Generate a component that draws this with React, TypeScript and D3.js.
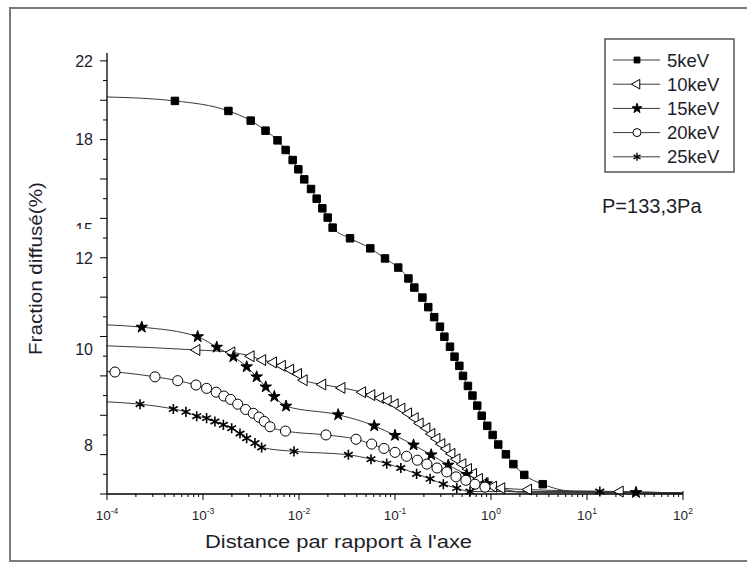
import React from "react";
import * as d3 from "d3";

// ---------- data ----------
const seriesNames = ["5keV", "10keV", "15keV", "20keV", "25keV"];

const keV5: [number, number][] = [
  [5.1e-4, 19.97], [1.84e-3, 19.46], [3.14e-3, 18.97], [4.48e-3, 18.46], [5.97e-3, 17.97],
  [7.26e-3, 17.48], [8.59e-3, 16.97], [9.84e-3, 16.5], [0.01135, 15.99], [0.01334, 15.5],
  [0.01528, 15.01], [0.0175, 14.52], [0.0199, 14.05], [0.0224, 13.54], [0.034, 13.0],
  [0.0553, 12.49], [0.0787, 11.99], [0.108, 11.79], [0.138, 11.55], [0.159, 11.35],
  [0.193, 11.13], [0.222, 10.92], [0.256, 10.7], [0.294, 10.49], [0.327, 10.27],
  [0.374, 10.05], [0.417, 9.84], [0.468, 9.65], [0.511, 9.44], [0.575, 9.23],
  [0.641, 9.03], [0.719, 8.82], [0.8, 8.61], [0.914, 8.4], [1.04, 8.21],
  [1.19, 8.01], [1.43, 7.81], [1.71, 7.61], [2.22, 7.39], [3.46, 7.2],
];

const keV10: [number, number][] = [
  [8.6e-4, 9.98], [1.99e-3, 9.93], [3.16e-3, 9.85], [4.17e-3, 9.77], [5.4e-3, 9.72],
  [6.68e-3, 9.65], [8.15e-3, 9.57], [9.84e-3, 9.48], [0.01127, 9.35], [0.0176, 9.26],
  [0.0279, 9.19], [0.0458, 9.1], [0.0571, 9.04], [0.0706, 8.98], [0.0846, 8.92],
  [0.1, 8.85], [0.1175, 8.76], [0.138, 8.66], [0.1616, 8.56], [0.182, 8.45],
  [0.214, 8.35], [0.241, 8.23], [0.272, 8.13], [0.306, 8.02], [0.346, 7.92],
  [0.39, 7.82], [0.44, 7.71], [0.507, 7.61], [0.58, 7.51], [0.655, 7.41],
  [0.755, 7.31], [0.865, 7.22], [1.06, 7.15], [1.29, 7.12], [2.45, 7.09], [22.1, 7.05],
];

const keV15: [number, number][] = [
  [2.3e-4, 10.48], [8.8e-4, 10.27], [1.39e-3, 10.04], [2.07e-3, 9.84], [2.85e-3, 9.63],
  [3.62e-3, 9.42], [4.5e-3, 9.21], [5.53e-3, 9.01], [7.33e-3, 8.81], [0.0256, 8.63],
  [0.0608, 8.4], [0.1, 8.2], [0.156, 8.0], [0.238, 7.8], [0.359, 7.59],
  [0.558, 7.4], [0.9, 7.21], [32.4, 7.03],
];

const keV20: [number, number][] = [
  [1.21e-4, 9.52], [3.16e-4, 9.42], [5.45e-4, 9.34], [8.45e-4, 9.25], [1.09e-3, 9.18],
  [1.37e-3, 9.1], [1.65e-3, 9.02], [1.94e-3, 8.95], [2.3e-3, 8.85], [2.78e-3, 8.74],
  [3.34e-3, 8.66], [3.83e-3, 8.58], [4.35e-3, 8.49], [4.99e-3, 8.38], [7.23e-3, 8.29],
  [0.0191, 8.21], [0.0393, 8.12], [0.0571, 8.02], [0.0767, 7.93], [0.1, 7.85],
  [0.132, 7.77], [0.171, 7.69], [0.215, 7.61], [0.274, 7.53], [0.346, 7.45],
  [0.432, 7.35], [0.547, 7.28], [0.681, 7.2], [0.865, 7.14],
];

const keV25: [number, number][] = [
  [2.21e-4, 8.85], [4.91e-4, 8.75], [6.65e-4, 8.69], [8.6e-4, 8.6], [1.09e-3, 8.56],
  [1.33e-3, 8.49], [1.63e-3, 8.42], [1.99e-3, 8.35], [2.43e-3, 8.24], [2.85e-3, 8.14],
  [3.48e-3, 8.04], [4.08e-3, 7.95], [8.87e-3, 7.87], [0.0327, 7.8], [0.0562, 7.71],
  [0.082, 7.62], [0.115, 7.53], [0.168, 7.41], [0.232, 7.31], [0.319, 7.2],
  [0.44, 7.12], [0.604, 7.05], [13.6, 7.05],
];

// fitted-curve values at the left edge (x = 1e-4) and tail anchors (curve only, no marker)
const curveStartValues = [20.17, 10.07, 10.53, 9.53, 8.9];
const curveTails: [number, number][][] = [
  [[8.45, 7.04], [100, 7.02]],
  [[100, 7.02]],
  [[2.2, 7.04], [100, 7.02]],
  [[2.0, 7.04], [100, 7.02]],
  [[100, 7.02]],
];

const xTickExponents = [-4, -3, -2, -1, 0, 1, 2];
const yTickLabels = [22, 18, 12, 10, 8];
const yRulerMax = 22;
const xTitle = "Distance par rapport à l'axe";
const yTitle = "Fraction diffusé(%)";
const pressureLabel = "P=133,3Pa";

const allSeries = [keV5, keV10, keV15, keV20, keV25];

// ---------- chart ----------
export default function App() {
  const W = 747;
  const H = 563;
  const left = 107;
  const right = 683;
  const bottom = 494;
  const top = 53;

  const x = d3.scaleLog().domain([1e-4, 1e2]).range([left, right]);
  // the reference's value axis is not uniform: piecewise scale through its labelled ticks
  const y = d3.scaleLinear().domain([7, 8, 10, 12, 22.4]).range([bottom, 445, 349, 258, top]);
  // tick ruler (uniform tick marks drawn along the axis)
  const ruler = d3.scaleLinear().domain([0, yRulerMax]).range([bottom, y(22)]);

  const line = d3
    .line<[number, number]>()
    .x((d) => x(d[0]))
    .y((d) => y(d[1]))
    .curve(d3.curveMonotoneX);

  const symbolTypes = [d3.symbolSquare, d3.symbolTriangle, d3.symbolStar, d3.symbolCircle, d3.symbolAsterisk];
  const sizes = [56, 52, 42, 80, 72];
  const legendSizes = [34, 40, 30, 50, 45];
  const fills = ["#000", "#fff", "#000", "#fff", "none"];
  const rotations = [0, -90, 0, 0, 0];

  const markerPath = (i: number, size: number) => d3.symbol().type(symbolTypes[i]).size(size)() as string;

  const xTicks = x.ticks();
  const isMajor = (v: number) => Math.abs(Math.log10(v) - Math.round(Math.log10(v))) < 1e-6;

  const rulerTicks = d3.range(0, yRulerMax + 1);

  const font = "'Liberation Sans', Arial, Helvetica, sans-serif";
  const textColor = "#1e1e2a";

  return (
    <svg
      width={W}
      height={H}
      style={{ position: "absolute", left: 0, top: 0, background: "#fff" }}
      fontFamily={font}
    >
      <rect x={0} y={0} width={W} height={H} fill="#fff" />
      {/* outer frame */}
      <rect x={10} y={8} width={770} height={553} fill="none" stroke="#7a7a7a" strokeWidth={2} />

      <defs>
        <clipPath id="cutLabel">
          <rect x={60} y={215} width={40} height={14} />
        </clipPath>
      </defs>

      {/* curves */}
      {allSeries.map((s, i) => {
        const pts: [number, number][] = [[1e-4, curveStartValues[i]], ...s, ...curveTails[i]].sort(
          (a, b) => a[0] - b[0]
        ) as [number, number][];
        return <path key={"l" + i} d={line(pts) as string} fill="none" stroke="#3a3a3a" strokeWidth={1} />;
      })}

      {/* markers */}
      {allSeries.map((s, i) => (
        <g key={"m" + i}>
          {s.map((d, j) => (
            <path
              key={j}
              d={markerPath(i, sizes[i])}
              transform={`translate(${x(d[0])},${y(d[1])}) rotate(${rotations[i]})`}
              fill={fills[i]}
              stroke="#000"
              strokeWidth={i === 4 ? 1.6 : 1}
            />
          ))}
        </g>
      ))}

      {/* y axis */}
      <line x1={left} x2={left} y1={top} y2={bottom} stroke="#000" strokeWidth={1.3} />
      {rulerTicks.map((t) => (
        <line
          key={"yt" + t}
          x1={left}
          x2={left - (t % 2 === 0 ? 7 : 4)}
          y1={ruler(t)}
          y2={ruler(t)}
          stroke="#000"
          strokeWidth={1}
        />
      ))}
      {yTickLabels.map((v) => (
        <text key={"yl" + v} x={93} y={y(v)} dy="0.36em" textAnchor="end" fontSize={16} fill={textColor}>
          {v}
        </text>
      ))}
      <text x={93} y={234.5} textAnchor="end" fontSize={16} fill={textColor} clipPath="url(#cutLabel)">
        15
      </text>

      {/* x axis */}
      <line x1={left} x2={right} y1={bottom} y2={bottom} stroke="#000" strokeWidth={1.3} />
      {xTicks.map((t, k) => (
        <line
          key={"xt" + k}
          x1={x(t)}
          x2={x(t)}
          y1={bottom}
          y2={bottom + (isMajor(t) ? 6 : 3)}
          stroke="#000"
          strokeWidth={1}
        />
      ))}
      <line x1={right} x2={right} y1={bottom - 3} y2={bottom} stroke="#000" strokeWidth={1} />
      {xTickExponents.map((e) => (
        <text key={"xl" + e} x={x(Math.pow(10, e))} y={520} textAnchor="middle" fontSize={13.5} fill={textColor}>
          10
          <tspan fontSize={8.5} dy={-6}>
            {e < 0 ? "-" + Math.abs(e) : String(e)}
          </tspan>
        </text>
      ))}

      {/* axis titles */}
      <text
        x={338.5}
        y={548}
        textAnchor="middle"
        fontSize={17.5}
        fill={textColor}
        textLength={267}
        lengthAdjust="spacingAndGlyphs"
      >
        {xTitle}
      </text>
      <text
        transform="translate(42,268.5) rotate(-90)"
        textAnchor="middle"
        fontSize={19}
        fill={textColor}
        textLength={173}
        lengthAdjust="spacingAndGlyphs"
      >
        {yTitle}
      </text>

      {/* legend */}
      <rect x={605} y={39} width={129} height={133} fill="#fff" stroke="#555" strokeWidth={1.5} />
      {seriesNames.map((name, i) => {
        const ly = 60 + i * 24.2;
        return (
          <g key={"lg" + i}>
            <line x1={613} x2={660} y1={ly} y2={ly} stroke="#3a3a3a" strokeWidth={1} />
            <path
              d={markerPath(i, legendSizes[i])}
              transform={`translate(637,${ly}) rotate(${rotations[i]})`}
              fill={fills[i]}
              stroke="#000"
              strokeWidth={i === 4 ? 1.4 : 1}
            />
            <text x={667} y={ly} dy="0.36em" fontSize={18.5} fill={textColor}>
              {name}
            </text>
          </g>
        );
      })}

      <text x={602} y={213} fontSize={20} fill={textColor}>
        {pressureLabel}
      </text>
    </svg>
  );
}
